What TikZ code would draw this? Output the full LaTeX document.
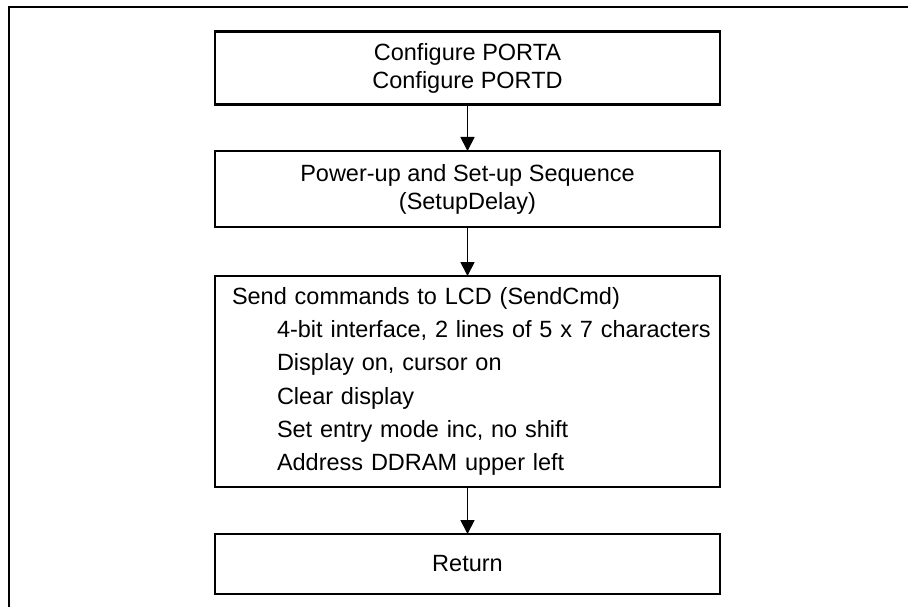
\documentclass[tikz,border=0pt]{standalone}
\usepackage{fontspec}
\setmainfont{Liberation Sans}
\usetikzlibrary{arrows.meta}
\begin{document}
\begin{tikzpicture}[x=1pt,y=-1pt,
  box/.style={draw, line width=2.4pt, rectangle, minimum width=505pt, inner sep=0pt, outer sep=0pt, font=\fontsize{23.5}{28}\selectfont, align=center},
  flow/.style={line width=1.8pt, -{Triangle[width=14pt,length=14pt]}},
  frameline/.style={line width=1.2pt}]
\useasboundingbox (0,0) rectangle (908,607);
\draw[frameline] (9,607) -- (9,7) -- (908,7);
\node[box, minimum height=73pt] (cfg) at (467.5,68) {Configure PORTA\\Configure PORTD};
\node[box, minimum height=76pt] (pwr) at (467.5,189) {Power-up and Set-up Sequence\\(SetupDelay)};
\node[box, minimum height=211pt, text width=471pt, inner xsep=17pt, align=left, font=\fontsize{23.5}{33.3}\selectfont] (cmd) at (467.5,381.5) {\mbox{Send commands to LCD (SendCmd)}\\
\mbox{\hspace*{45pt}4-bit interface, 2 lines of 5 x 7 characters}\\
\mbox{\hspace*{45pt}Display on, cursor on}\\
\mbox{\hspace*{45pt}Clear display}\\
\mbox{\hspace*{45pt}Set entry mode inc, no shift}\\
\mbox{\hspace*{45pt}Address DDRAM upper left}};
\node[box, minimum height=60pt] (ret) at (467.5,564) {Return};
\draw[flow] (cfg.south) -- (pwr.north);
\draw[flow] (pwr.south) -- (cmd.north);
\draw[flow] (cmd.south) -- (ret.north);
\end{tikzpicture}
\end{document}
